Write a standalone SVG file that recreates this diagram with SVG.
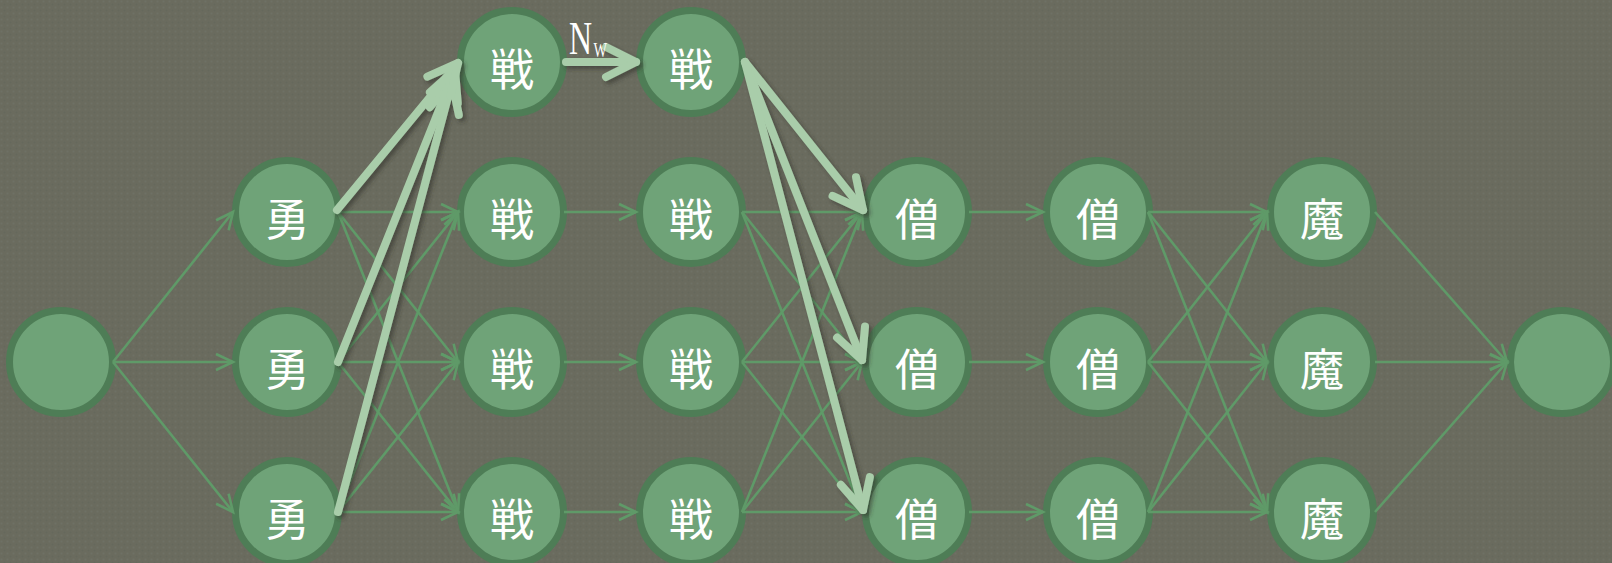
<svg xmlns="http://www.w3.org/2000/svg" width="1612" height="563" viewBox="0 0 1612 563">
<defs>
<style>
.n circle{fill:#6fa378;stroke:#4e7d56;stroke-width:7}
.n text{fill:#ffffff;font-family:"Noto Sans CJK JP","Noto Sans CJK SC",sans-serif;font-size:44px;text-anchor:middle;dominant-baseline:central}
.t{stroke:#5f9a68;stroke-width:2.6;fill:none;marker-end:url(#ah)}
.k{stroke:#a9cdaa;stroke-width:8;fill:none;stroke-linecap:round;marker-end:url(#ak)}
.lbl{fill:#ffffff;font-family:"Liberation Serif",serif}
</style>
<pattern id="tex" width="6" height="6" patternUnits="userSpaceOnUse">
<rect width="6" height="6" fill="#6a6b5e"/>
<circle cx="1.5" cy="1.5" r="1" fill="#72736a" opacity="0.6"/>
<circle cx="4.5" cy="4.5" r="1" fill="#63655a" opacity="0.6"/>
</pattern>
<marker id="ah" markerUnits="userSpaceOnUse" markerWidth="24" markerHeight="24" viewBox="-20 -12 24 24" refX="0" refY="0" orient="auto">
<path d="M-17,-8 L0,0 L-17,8" fill="none" stroke="#5f9a68" stroke-width="2.6"/>
</marker>
<marker id="ak" markerUnits="userSpaceOnUse" markerWidth="50" markerHeight="50" viewBox="-38 -25 50 50" refX="0" refY="0" orient="auto">
<path d="M-30,-15 L0,0 L-30,15" fill="none" stroke="#a9cdaa" stroke-width="8" stroke-linecap="round" stroke-linejoin="round"/>
</marker>
<filter id="sh" x="-20%" y="-20%" width="140%" height="140%">
<feDropShadow dx="3" dy="3" stdDeviation="2" flood-color="#2e2f28" flood-opacity="0.55"/>
</filter>
</defs>
<rect width="1612" height="563" fill="url(#tex)"/>

<g id="nodes">
<g id="start" class="n"><circle cx="61" cy="362" r="51.5"/></g>
<g id="yu1" class="n"><circle cx="287" cy="212" r="51.5"/><text x="287" y="217">勇</text></g>
<g id="yu2" class="n"><circle cx="287" cy="362" r="51.5"/><text x="287" y="367">勇</text></g>
<g id="yu3" class="n"><circle cx="287" cy="512" r="51.5"/><text x="287" y="517">勇</text></g>
<g id="sa0" class="n"><circle cx="512" cy="62" r="51.5"/><text x="512" y="67">戦</text></g>
<g id="sa1" class="n"><circle cx="512" cy="212" r="51.5"/><text x="512" y="217">戦</text></g>
<g id="sa2" class="n"><circle cx="512" cy="362" r="51.5"/><text x="512" y="367">戦</text></g>
<g id="sa3" class="n"><circle cx="512" cy="512" r="51.5"/><text x="512" y="517">戦</text></g>
<g id="sb0" class="n"><circle cx="691" cy="62" r="51.5"/><text x="691" y="67">戦</text></g>
<g id="sb1" class="n"><circle cx="691" cy="212" r="51.5"/><text x="691" y="217">戦</text></g>
<g id="sb2" class="n"><circle cx="691" cy="362" r="51.5"/><text x="691" y="367">戦</text></g>
<g id="sb3" class="n"><circle cx="691" cy="512" r="51.5"/><text x="691" y="517">戦</text></g>
<g id="pa1" class="n"><circle cx="917" cy="212" r="51.5"/><text x="917" y="217">僧</text></g>
<g id="pa2" class="n"><circle cx="917" cy="362" r="51.5"/><text x="917" y="367">僧</text></g>
<g id="pa3" class="n"><circle cx="917" cy="512" r="51.5"/><text x="917" y="517">僧</text></g>
<g id="pb1" class="n"><circle cx="1098" cy="212" r="51.5"/><text x="1098" y="217">僧</text></g>
<g id="pb2" class="n"><circle cx="1098" cy="362" r="51.5"/><text x="1098" y="367">僧</text></g>
<g id="pb3" class="n"><circle cx="1098" cy="512" r="51.5"/><text x="1098" y="517">僧</text></g>
<g id="ma1" class="n"><circle cx="1322" cy="212" r="51.5"/><text x="1322" y="217">魔</text></g>
<g id="ma2" class="n"><circle cx="1322" cy="362" r="51.5"/><text x="1322" y="367">魔</text></g>
<g id="ma3" class="n"><circle cx="1322" cy="512" r="51.5"/><text x="1322" y="517">魔</text></g>
<g id="end" class="n"><circle cx="1562" cy="362" r="51.5"/></g>
</g>

<g id="connectors">
<g id="thin">
<path class="t" d="M113,362 L233,212"/>
<path class="t" d="M113,362 L233,362"/>
<path class="t" d="M113,362 L233,512"/>

<path class="t" d="M338,212 L458,212"/>
<path class="t" d="M338,212 L458,362"/>
<path class="t" d="M338,212 L458,512"/>
<path class="t" d="M338,362 L458,212"/>
<path class="t" d="M338,362 L458,362"/>
<path class="t" d="M338,362 L458,512"/>
<path class="t" d="M338,512 L458,212"/>
<path class="t" d="M338,512 L458,362"/>
<path class="t" d="M338,512 L458,512"/>

<path class="t" d="M564,212 L636,212"/>
<path class="t" d="M564,362 L636,362"/>
<path class="t" d="M564,512 L636,512"/>

<path class="t" d="M742,212 L862,212"/>
<path class="t" d="M742,212 L862,362"/>
<path class="t" d="M742,212 L862,512"/>
<path class="t" d="M742,362 L862,212"/>
<path class="t" d="M742,362 L862,362"/>
<path class="t" d="M742,362 L862,512"/>
<path class="t" d="M742,512 L862,212"/>
<path class="t" d="M742,512 L862,362"/>
<path class="t" d="M742,512 L862,512"/>

<path class="t" d="M969,212 L1043,212"/>
<path class="t" d="M969,362 L1043,362"/>
<path class="t" d="M969,512 L1043,512"/>

<path class="t" d="M1148,212 L1267,212"/>
<path class="t" d="M1148,212 L1267,362"/>
<path class="t" d="M1148,212 L1267,512"/>
<path class="t" d="M1148,362 L1267,212"/>
<path class="t" d="M1148,362 L1267,362"/>
<path class="t" d="M1148,362 L1267,512"/>
<path class="t" d="M1148,512 L1267,212"/>
<path class="t" d="M1148,512 L1267,362"/>
<path class="t" d="M1148,512 L1267,512"/>

<path class="t" d="M1375,212 L1507,362"/>
<path class="t" d="M1375,362 L1507,362"/>
<path class="t" d="M1375,512 L1507,362"/>
</g>
<g id="thick" filter="url(#sh)">
<path class="k" d="M338,512 L452,82"/>
<path class="k" d="M338,362 L455,70"/>
<path class="k" d="M337,210 L458,63"/>
<path class="k" d="M566,62 L636,62"/>
<path class="k" d="M745,62 L863,210"/>
<path class="k" d="M745,62 L862,360"/>
<path class="k" d="M745,62 L863,510"/>
</g>
<g id="label">
<text class="lbl" transform="translate(569,54) scale(0.68,1)" font-size="47">N<tspan font-size="21" dx="2" dy="3">W</tspan></text>
</g>
</g>
</svg>
